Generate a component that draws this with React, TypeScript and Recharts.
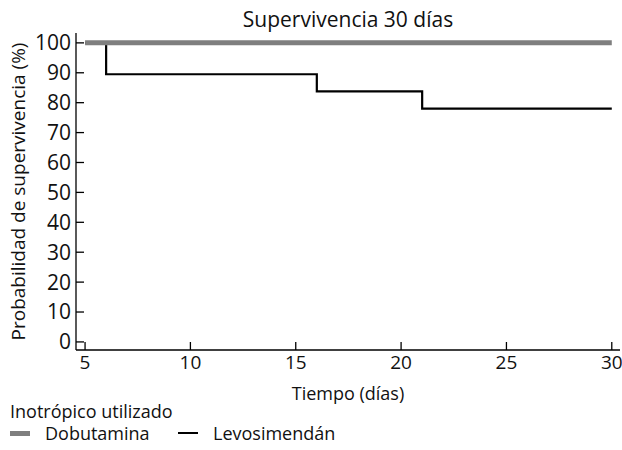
import { Line, LineChart, XAxis, YAxis } from 'recharts';

const FONT = '"Open Sans", sans-serif';
const GREY = '#7f7f7f';

// Kaplan-Meier steps (day, % surviving)
const dobutaminaDays = [5, 30];
const dobutaminaSurv = [100, 100];
const levoDays = [5, 6, 16, 21, 30];
const levoSurv = [100, 89.5, 83.8, 78, 78];

const xTicks = [5, 10, 15, 20, 25, 30];
const yTicks = [0, 10, 20, 30, 40, 50, 60, 70, 80, 90, 100];

const dobutamina = dobutaminaDays.map((t, i) => ({ t, s: dobutaminaSurv[i] }));
const levosimendan = levoDays.map((t, i) => ({ t, s: levoSurv[i] }));

const series = [
  { name: 'Dobutamina', color: GREY, width: 5 },
  { name: 'Levosimendán', color: '#000', width: 2 },
];

function KeyBox() {
  return (
    <div
      style={{
        position: 'absolute',
        left: 0,
        top: 400,
        fontFamily: FONT,
        fontSize: 18,
        color: '#111',
        lineHeight: '22px',
      }}
    >
      <div style={{ paddingLeft: 10 }}>Inotrópico utilizado</div>
      <div style={{ display: 'flex', alignItems: 'center', paddingLeft: 10 }}>
        {series.map((s) => (
          <div key={s.name} style={{ display: 'flex', alignItems: 'center', width: 168 }}>
            <span
              style={{ display: 'inline-block', width: 20, height: s.width, background: s.color, marginRight: 15 }}
            />
            {s.name}
          </div>
        ))}
      </div>
    </div>
  );
}

export default function App() {
  return (
    <div style={{ position: 'absolute', left: 0, top: 0, width: 622, height: 450, background: '#fff' }}>
      <div
        style={{
          position: 'absolute',
          left: 76,
          width: 544,
          top: 5,
          textAlign: 'center',
          fontFamily: FONT,
          fontSize: 21,
          color: '#111',
        }}
      >
        Supervivencia 30 días
      </div>
      <LineChart
        width={622}
        height={450}
        margin={{ top: 33, right: 2, bottom: 60, left: 0 }}
        style={{ fontFamily: FONT }}
      >
        <XAxis
          type="number"
          dataKey="t"
          domain={[4.57, 30.39]}
          ticks={xTicks}
          interval={0}
          allowDataOverflow
          height={40}
          tickSize={-8}
          tickMargin={14}
          stroke="#000"
          strokeWidth={1.3}
          tick={{ fill: '#111', fontSize: 19 }}
          label={{ value: 'Tiempo (días)', position: 'insideBottom', offset: -10, fill: '#111', fontSize: 18 }}
        />
        <YAxis
          type="number"
          dataKey="s"
          domain={[-2.7, 103.3]}
          ticks={yTicks}
          interval={0}
          allowDataOverflow
          width={76}
          tickSize={-8}
          tickMargin={13}
          stroke="#000"
          strokeWidth={1.3}
          tick={{ fill: '#111', fontSize: 21 }}
          label={{
            value: 'Probabilidad de supervivencia (%)',
            angle: -90,
            position: 'insideLeft',
            offset: 18,
            fill: '#111',
            fontSize: 19,
            style: { textAnchor: 'middle' },
          }}
        />
        <Line
          data={levosimendan}
          dataKey="s"
          name="Levosimendán"
          type="stepAfter"
          stroke="#000"
          strokeWidth={2.2}
          dot={false}
          isAnimationActive={false}
        />
        <Line
          data={dobutamina}
          dataKey="s"
          name="Dobutamina"
          type="stepAfter"
          stroke={GREY}
          strokeWidth={5}
          dot={false}
          isAnimationActive={false}
        />
      </LineChart>
      <KeyBox />
    </div>
  );
}
